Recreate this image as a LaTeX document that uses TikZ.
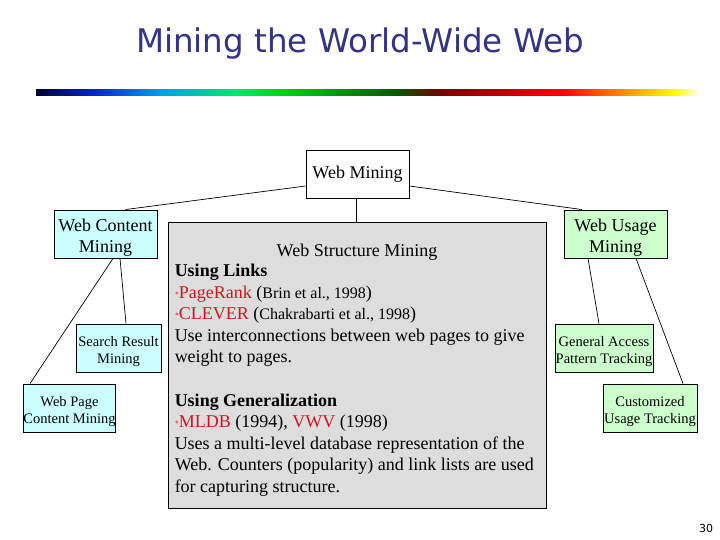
\documentclass[tikz,border=0pt]{standalone}
\usepackage{fontspec}
\setmainfont{Liberation Serif}
\newfontfamily\titlefont{DejaVu Sans}
\usetikzlibrary{calc}
\definecolor{titleblue}{RGB}{51,51,136}
\definecolor{cyanbox}{RGB}{204,255,255}
\definecolor{greenbox}{RGB}{204,255,204}
\definecolor{graybox}{RGB}{221,221,221}
\definecolor{redword}{RGB}{210,20,30}
\definecolor{pinkdot}{RGB}{240,100,140}
\definecolor{gA}{RGB}{0,0,50}
\definecolor{gB}{RGB}{0,40,200}
\definecolor{gC}{RGB}{0,160,230}
\definecolor{gD}{RGB}{0,230,110}
\definecolor{gE}{RGB}{0,210,20}
\definecolor{gF}{RGB}{0,90,0}
\definecolor{gG}{RGB}{120,0,0}
\definecolor{gH}{RGB}{250,0,0}
\definecolor{gI}{RGB}{255,150,0}
\definecolor{gJ}{RGB}{255,250,0}
\pgfdeclarehorizontalshading{rainbowbar}{100bp}{
  color(0bp)=(gA);
  color(25bp)=(gA);
  color(29.5bp)=(gB);
  color(34.5bp)=(gC);
  color(40bp)=(gD);
  color(43.5bp)=(gE);
  color(52bp)=(gF);
  color(55.5bp)=(gG);
  color(64.5bp)=(gH);
  color(69.5bp)=(gI);
  color(73bp)=(gJ);
  color(75bp)=(white);
  color(100bp)=(white)}
\tikzset{
  box/.style={draw=black, line width=0.9pt, inner sep=0pt, align=center},
  bigbox/.style={box, minimum width=103pt, minimum height=48pt, font=\fontsize{18}{21}\selectfont},
  smallbox/.style={box, minimum height=48pt, font=\fontsize{14.5}{17.5}\selectfont},
  link/.style={draw=black, line width=0.7pt}
}
\newcommand{\bul}{{\color{pinkdot}\fontsize{12}{12}\selectfont\raisebox{1pt}{\textbullet}}}
\newcommand{\redw}[1]{\textcolor{redword}{#1}}
\newcommand{\citesm}[1]{{\fontsize{16}{16}\selectfont #1}}
\newcommand{\bigstrut}{\rule{0pt}{20.5pt}}
\newcommand{\smallstrut}{\rule{0pt}{17pt}}
\begin{document}
\begin{tikzpicture}[x=1pt,y=-1pt]
\useasboundingbox (0,0) rectangle (720,540);
\fill[white] (0,0) rectangle (720,540);
% title
\node[text=titleblue, font=\titlefont\fontsize{32.5}{36}\selectfont, anchor=base] (title) at (360,52.7) {Mining the World-Wide Web};
\shade[shading=rainbowbar] (36,90) rectangle (700,96);
% boxes
\node[bigbox, fill=white] (wm) at (357.5,174) {Web Mining};
\node[bigbox, fill=cyanbox] (wc) at (105.5,234) {\bigstrut Web Content\\Mining};
\node[bigbox, fill=greenbox] (wu) at (615.5,234) {\bigstrut Web Usage\\Mining};
\node[box, fill=graybox, minimum width=378pt, minimum height=286pt] (ws) at (357,365) {};
\node[smallbox, fill=cyanbox, minimum width=85pt] (sr) at (118.5,348) {\smallstrut Search Result\\Mining};
\node[smallbox, fill=cyanbox, minimum width=91pt] (wp) at (69.5,408) {\smallstrut Web Page\\Content Mining};
\node[smallbox, fill=greenbox, minimum width=98pt] (ga) at (604,348) {\smallstrut General Access\\Pattern Tracking};
\node[smallbox, fill=greenbox, minimum width=94pt] (cu) at (650,408) {\smallstrut Customized\\Usage Tracking};
% structure text
\node[anchor=base, font=\fontsize{18}{21.6}\selectfont, inner sep=0pt] (wsh) at (357,256) {Web Structure Mining};
\node[anchor=north west, align=left, inner sep=0pt, font=\fontsize{18}{21.6}\selectfont] (wst) at ($(ws.north west)+(7,42.3)$) {%
\textbf{Using Links}\\
\bul\redw{PageRank} (\citesm{Brin et al., 1998})\\
\bul\redw{CLEVER} (\citesm{Chakrabarti et al., 1998})\\
Use interconnections between web pages to give\\
weight to pages.\\[21.6pt]
\textbf{Using Generalization}\\
\bul\redw{MLDB} (1994), \redw{VWV} (1998)\\
Uses a multi-level database representation of the\\
Web. Counters (popularity) and link lists are used\\
for capturing structure.};
% connectors
\draw[link] ([yshift=-12pt]wm.west) -- ([xshift=20pt]wc.north);
\draw[link] ([xshift=-1.5pt]wm.south) -- ([xshift=-1.5pt]wm.south |- ws.north);
\draw[link] ([yshift=-12pt]wm.east) -- ([xshift=-33.5pt]wu.north);
\draw[link] ([xshift=7.5pt]wc.south) -- ([xshift=-39.5pt]wp.north);
\draw[link] ([xshift=14.5pt]wc.south) -- ([xshift=7.5pt]sr.north);
\draw[link] ([xshift=-27.5pt]wu.south) -- ([xshift=-5pt]ga.north);
\draw[link] ([xshift=20.5pt]wu.south) -- ([xshift=33pt]cu.north);
% page number
\node[font=\titlefont\fontsize{11}{12}\selectfont, anchor=base] (pn) at (706,532) {30};
\end{tikzpicture}
\end{document}
